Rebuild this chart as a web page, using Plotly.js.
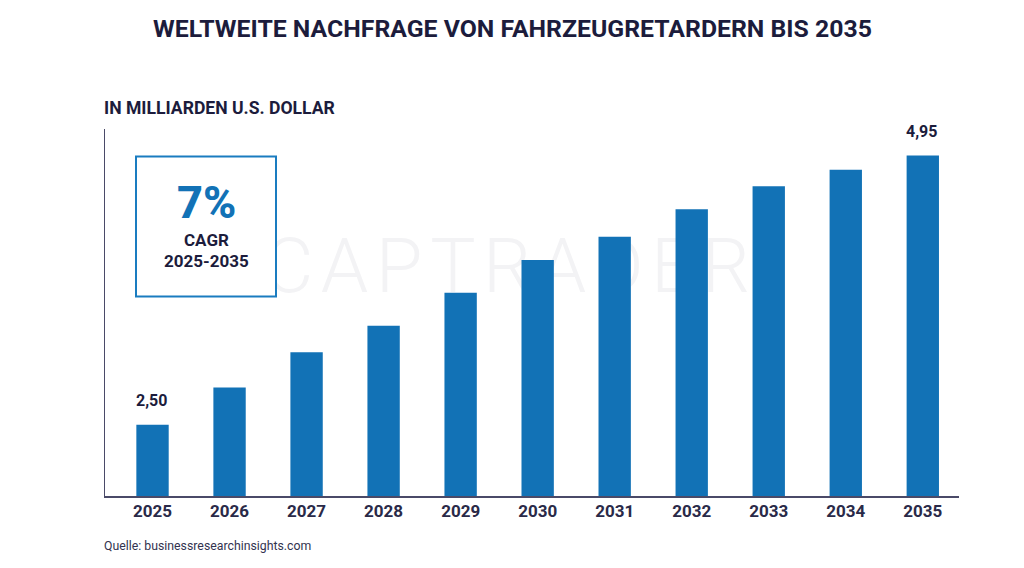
<!DOCTYPE html>
<html>
<head>
<meta charset="utf-8">
<script src="https://cdn.plot.ly/plotly-3.0.1.min.js"></script>
<style>
    html, body { margin: 0; padding: 0; background: #ffffff; overflow: hidden; }
    #wrap { position: relative; width: 1024px; height: 568px; }
    #watermark {
        position: absolute; left: 264px; top: 221px;
        font-family: Roboto, sans-serif; font-weight: 300; font-size: 76px; line-height: 90px;
        letter-spacing: 7.5px; color: #f3f3f5; white-space: nowrap;
    }
    #chart { position: absolute; left: 0; top: 0; width: 1024px; height: 568px; }
</style>
</head>
<body>
<div id="wrap">
    <div id="watermark">CAPTRADER</div>
    <div id="chart"></div>
</div>
<script>
// Values
const years = ['2025', '2026', '2027', '2028', '2029', '2030', '2031', '2032', '2033', '2034', '2035'];
const values = [2.50, 2.84, 3.16, 3.40, 3.70, 4.00, 4.21, 4.46, 4.67, 4.82, 4.95];
const valueLabels = ['2,50', '', '', '', '', '', '', '', '', '', '4,95'];

const DARK = '#1c1c3c';
const BLUE = '#1272b6';
const FONT = 'Roboto, sans-serif';

// page pixels to paper fractions
const L = 105, R = 959, T = 129, B = 496;
const px = x => (x - L) / (R - L);
const py = y => (B - y) / (B - T);

function label(text, x, y, size, color, weight) {
    return {
        text: text, xref: 'paper', yref: 'paper', x: px(x), y: py(y),
        xanchor: 'center', yanchor: 'middle', showarrow: false,
        font: { family: FONT, size: size, color: color || DARK, weight: weight || 700 }
    };
}

const annotations = [
    label('WELTWEITE NACHFRAGE VON FAHRZEUGRETARDERN BIS 2035', 512, 29, 24.8),
    Object.assign(label('IN MILLIARDEN U.S. DOLLAR', 102, 108, 17.6), { xanchor: 'left' }),
    label('7%', 206, 202, 45, BLUE, 800),
    label('CAGR', 206, 240, 17),
    label('2025-2035', 206, 261, 17),
    Object.assign(label('Quelle: businessresearchinsights.com', 102, 546, 12.3, '#33334f', 400), { xanchor: 'left' })
];

// data labels sit well above their bars
valueLabels.forEach((t, i) => {
    if (!t) return;
    annotations.push({
        text: t, xref: 'x', yref: 'y', x: i, y: values[i], yshift: 24, xshift: -1.5,
        xanchor: 'center', yanchor: 'middle', showarrow: false,
        font: { family: FONT, size: 16, color: DARK, weight: 700 }
    });
});

Plotly.newPlot('chart', [{
    type: 'bar',
    x: years.map((y, i) => i),
    y: values,
    width: 0.42,
    marker: { color: BLUE, line: { width: 0 } },
    hoverinfo: 'skip'
}], {
    width: 1024,
    height: 568,
    paper_bgcolor: 'rgba(0,0,0,0)',
    plot_bgcolor: 'rgba(0,0,0,0)',
    margin: { l: L, r: 1024 - R, t: T, b: 568 - B, pad: 0 },
    showlegend: false,
    xaxis: {
        range: [-0.617, 10.47],
        tickvals: years.map((y, i) => i),
        ticktext: years,
        ticks: '',
        ticklabelstandoff: -1,
        showgrid: false,
        zeroline: false,
        showline: true,
        linecolor: '#4a4a68',
        linewidth: 1.5,
        tickfont: { family: FONT, size: 17, color: '#2a2a48', weight: 700 }
    },
    yaxis: {
        range: [1.853, 5.19],
        showticklabels: false,
        ticks: '',
        showgrid: false,
        zeroline: false,
        showline: true,
        linecolor: '#4a4a68',
        linewidth: 1.5
    },
    shapes: [{
        type: 'rect', xref: 'paper', yref: 'paper',
        x0: px(136), x1: px(276), y0: py(156.5), y1: py(296.5),
        line: { color: '#1a7cc0', width: 2 }, fillcolor: '#ffffff', layer: 'below'
    }],
    annotations: annotations
}, { displayModeBar: false, staticPlot: true });
</script>
</body>
</html>
